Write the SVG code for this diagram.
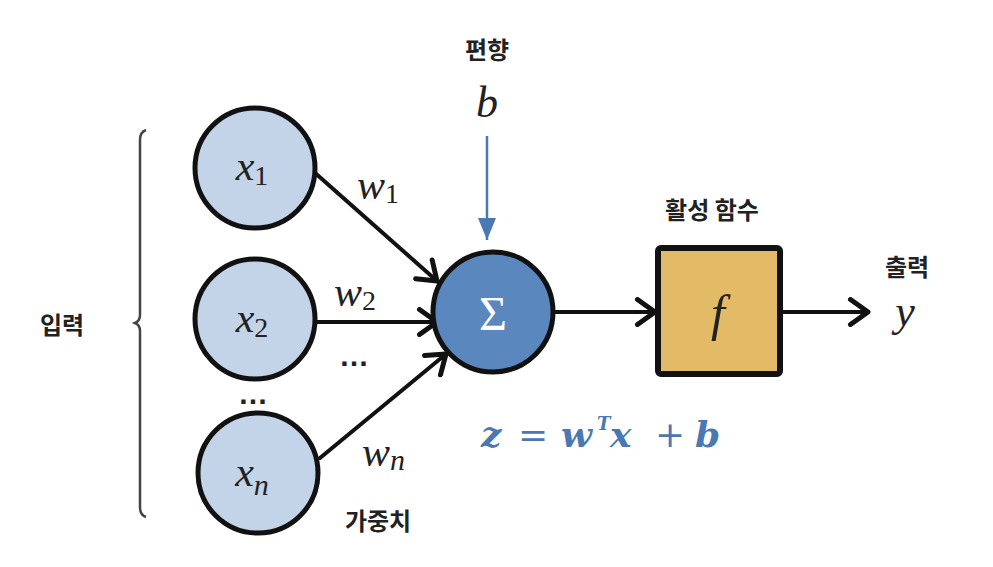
<svg xmlns="http://www.w3.org/2000/svg" width="993" height="567" viewBox="0 0 993 567">
<style>
.in{fill:#c3d3e8;stroke:#111;stroke-width:5}
.sum{fill:#5b87bf;stroke:#111;stroke-width:5}
.box{fill:#e3bb67;stroke:#111;stroke-width:6;stroke-linejoin:round}
.m{font-family:"Liberation Serif","DejaVu Serif",serif;font-style:italic;fill:#222}
.sub{font-family:"Liberation Serif","DejaVu Serif",serif;font-style:normal}
.dots{font-family:"Liberation Sans","DejaVu Sans",sans-serif;font-weight:700;font-size:30px;fill:#222;letter-spacing:2px}
.ko{font-family:"Noto Sans CJK KR","Noto Sans",sans-serif;font-weight:700;font-size:24px;fill:#222}
.c{fill:none;stroke:#111;stroke-width:4;stroke-linecap:round}
.eq{font-family:"DejaVu Serif","Liberation Serif",serif;font-weight:700;font-style:italic;font-size:36px;fill:#4a78b2}
</style>
<defs>
<marker id="chev" markerUnits="userSpaceOnUse" markerWidth="30" markerHeight="30" refX="20" refY="12" orient="auto" viewBox="0 0 24 24">
<path d="M6,2 L20,12 L6,22" fill="none" stroke="#111" stroke-width="4" stroke-linecap="round" stroke-linejoin="round"/>
</marker>
<marker id="blue" markerUnits="userSpaceOnUse" markerWidth="18" markerHeight="22" refX="9" refY="22" orient="0" viewBox="0 0 18 22">
<path d="M0,0 L18,0 L9,22 Z" fill="#4a78b2"/>
</marker>
</defs>

<g id="brace">
<path d="M146,130 Q140,132 140,140 L140,315 Q140,321 135,323 Q140,325 140,331 L140,507 Q140,515 146,517" fill="none" stroke="#444" stroke-width="2.5"/>
<text class="ko" x="62" y="334" text-anchor="middle">입력</text>
</g>

<g id="connectors">
<line class="c" x1="314" y1="172" x2="437" y2="281" marker-end="url(#chev)"/>
<line class="c" x1="317" y1="322" x2="437" y2="322" marker-end="url(#chev)"/>
<line class="c" x1="320" y1="458" x2="446" y2="354" marker-end="url(#chev)"/>
<line class="c" x1="553" y1="312" x2="655" y2="312" marker-end="url(#chev)"/>
<line class="c" x1="782" y1="312" x2="868" y2="312" marker-end="url(#chev)"/>
<line x1="487" y1="136" x2="487" y2="240" stroke="#4a78b2" stroke-width="2.5" marker-end="url(#blue)"/>
</g>

<g id="x1">
<circle class="in" cx="255" cy="168" r="60"/>
<text class="m" x="252" y="180" font-size="42" text-anchor="middle">x<tspan class="sub" font-size="28" dy="5">1</tspan></text>
</g>
<g id="x2">
<circle class="in" cx="255" cy="319" r="60"/>
<text class="m" x="252" y="332" font-size="42" text-anchor="middle">x<tspan class="sub" font-size="28" dy="5">2</tspan></text>
</g>
<text class="dots" x="254" y="404" text-anchor="middle">…</text>
<g id="xn">
<circle class="in" cx="258" cy="473" r="60"/>
<text class="m" x="252" y="486" font-size="42" text-anchor="middle">x<tspan font-size="30" dy="9">n</tspan></text>
</g>

<g id="weights">
<text class="m" x="357" y="199" font-size="42">w<tspan class="sub" font-size="28" dy="4">1</tspan></text>
<text class="m" x="334" y="306" font-size="42">w<tspan class="sub" font-size="28" dy="4">2</tspan></text>
<text class="dots" x="355" y="366" text-anchor="middle">…</text>
<text class="m" x="362" y="466" font-size="42">w<tspan font-size="30" dy="4">n</tspan></text>
<text class="ko" x="378" y="530" text-anchor="middle">가중치</text>
</g>

<g id="sum">
<circle class="sum" cx="493" cy="312" r="60"/>
<text x="493" y="330" font-family="Liberation Serif, DejaVu Serif, serif" font-size="48" fill="#fff" text-anchor="middle">Σ</text>
</g>

<g id="bias">
<text class="ko" x="487" y="59" text-anchor="middle">편향</text>
<text class="m" x="487" y="117" font-size="44" text-anchor="middle">b</text>
</g>

<g id="activation">
<rect class="box" x="658" y="248" width="122" height="126" rx="3"/>
<text class="m" x="718" y="330" font-size="50" text-anchor="middle">f</text>
<text class="ko" x="712" y="219" text-anchor="middle">활성 함수</text>
</g>

<g id="output">
<text class="ko" x="907" y="276" text-anchor="middle">출력</text>
<text class="m" x="905" y="326" font-size="44" text-anchor="middle">y</text>
</g>

<g id="equation">
<text class="eq" y="447"><tspan x="481">z</tspan><tspan x="518" font-weight="400" font-style="normal">=</tspan><tspan x="561">w</tspan><tspan x="597" font-size="18" dy="-17">T</tspan><tspan x="610" dy="17">x</tspan><tspan x="655" font-weight="400" font-style="normal">+</tspan><tspan x="695">b</tspan></text>
</g>
</svg>
